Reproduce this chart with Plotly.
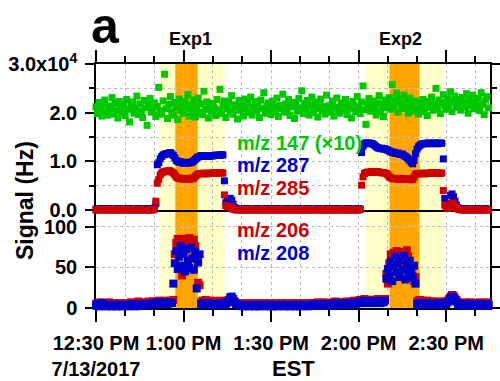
import pandas as pd
import plotly.graph_objects as go

# ---------------------------------------------------------------------------
# Ion signals recorded every 30 s on 13 July 2017 (EST)
# ---------------------------------------------------------------------------
t_start = "2017-07-13 12:30:00"
t_end = "2017-07-13 14:45:00"
n_points = 270
times = pd.date_range(t_start, periods=n_points, freq="30s")

# m/z 147 (x10), units of 1e4 Hz; each row is 5 minutes
mz147_x10 = [
    2.12, 1.98, 2.21, 2.05, 1.93, 2.17, 2.26, 2.02, 1.95, 2.14,  # 12:30
    2.08, 2.31, 1.97, 2.19, 2.04, 1.89, 2.23, 2.11, 2.00, 2.16,
    1.94, 2.27, 2.07, 1.81, 2.13, 2.22, 1.99, 2.09, 2.34, 1.96,
    2.18, 2.03, 1.90, 2.25, 2.10, 1.74, 2.15, 2.29, 2.01, 2.06,
    2.20, 1.92, 2.13, 2.52, 2.04, 1.97, 2.24, 2.79, 2.08, 1.88,  # 12:50
    2.17, 2.33, 2.02, 1.95, 2.21, 2.11, 1.86, 2.28, 2.05, 2.14,
    1.99, 2.23, 2.09, 2.37, 1.93, 2.16, 2.04, 2.26, 1.91, 2.12,  # 13:00
    2.30, 2.01, 2.18, 1.96, 2.44, 2.07, 2.22, 1.89, 2.15, 2.03,
    2.19, 2.10, 1.94, 2.27, 2.06, 2.48, 1.98, 2.13, 2.24, 1.90,
    2.08, 2.21, 2.02, 2.35, 1.97, 2.16, 2.11, 1.87, 2.25, 2.05,
    2.14, 1.93, 2.28, 2.07, 2.19, 2.00, 2.32, 1.95, 2.12, 2.23,  # 13:20
    2.04, 2.17, 1.90, 2.26, 2.09, 2.41, 1.99, 2.13, 2.20, 2.06,
    1.96, 2.24, 2.11, 2.02, 2.30, 1.92, 2.15, 2.08, 2.38, 2.01,  # 13:30
    2.18, 2.05, 2.27, 1.94, 2.12, 2.21, 1.88, 2.16, 2.03, 2.29,
    2.10, 2.45, 1.98, 2.19, 2.07, 2.25, 1.95, 2.14, 2.32, 2.00,
    2.22, 2.09, 1.91, 2.17, 2.28, 2.04, 2.13, 1.97, 2.36, 2.06,
    2.15, 2.01, 2.24, 1.93, 2.11, 2.30, 2.07, 1.99, 2.20, 2.12,  # 13:50
    2.05, 2.27, 1.96, 2.18, 2.09, 1.89, 2.23, 2.14, 2.02, 2.33,
    2.11, 1.98, 2.22, 2.55, 2.06, 1.76, 2.17, 2.29, 2.03, 2.13,  # 14:00
    2.24, 2.08, 1.95, 2.20, 2.35, 2.02, 2.15, 1.92, 2.26, 2.10,
    2.19, 2.31, 2.07, 2.58, 2.14, 2.25, 2.40, 2.01, 2.28, 2.17,
    2.09, 2.36, 2.12, 2.22, 1.99, 2.30, 2.06, 2.18, 2.03, 2.24,
    2.13, 1.97, 2.20, 2.08, 2.27, 2.02, 2.16, 1.94, 2.23, 2.11,  # 14:20
    2.32, 2.05, 2.18, 2.50, 2.10, 2.26, 1.98, 2.21, 2.37, 2.14,
    2.07, 2.29, 2.16, 2.43, 2.02, 2.23, 2.34, 2.11, 2.19, 2.27,  # 14:30
    2.05, 2.31, 2.20, 2.12, 2.39, 1.99, 2.25, 2.15, 2.36, 2.08,
    2.22, 2.13, 2.30, 2.04, 2.41, 2.17, 1.96, 2.26, 2.33, 2.10,
]

# m/z 287, units of 1e4 Hz
mz287 = [
    0.02, 0.01, 0.02, 0.03, 0.01, 0.02, 0.02, 0.01, 0.03, 0.02,  # 12:30
    0.01, 0.02, 0.02, 0.01, 0.02, 0.03, 0.02, 0.01, 0.02, 0.02,
    0.01, 0.02, 0.03, 0.02, 0.01, 0.02, 0.02, 0.01, 0.02, 0.03,
    0.02, 0.01, 0.02, 0.02, 0.01, 0.03, 0.02, 0.02, 0.01, 0.02,
    0.04, 0.13, 0.93, 0.97, 1.05, 1.10, 1.13, 1.14, 1.16, 1.15,  # 12:50
    1.17, 1.18, 1.15, 1.12, 1.07, 1.02, 1.00, 0.98, 0.99, 0.97,
    0.96, 0.98, 0.97, 0.96, 0.98, 0.97, 0.99, 1.01, 1.04, 1.07,  # 13:00
    1.09, 1.10, 1.12, 1.11, 1.10, 1.11, 1.12, 1.11, 1.10, 1.12,
    1.11, 1.12, 1.13, 1.12, 1.13, 1.12, 1.14, 1.13, 0.60, 0.15,
    0.18, 0.23, 0.24, 0.20, 0.12, 0.05, 0.03, 0.02, 0.01, 0.02,
    0.02, 0.01, 0.02, 0.03, 0.02, 0.01, 0.02, 0.02, 0.01, 0.02,  # 13:20
    0.03, 0.02, 0.01, 0.02, 0.02, 0.01, 0.02, 0.03, 0.02, 0.01,
    0.02, 0.02, 0.01, 0.02, 0.03, 0.02, 0.01, 0.02, 0.02, 0.01,  # 13:30
    0.02, 0.03, 0.02, 0.01, 0.02, 0.02, 0.01, 0.02, 0.03, 0.02,
    0.01, 0.02, 0.02, 0.01, 0.02, 0.03, 0.02, 0.01, 0.02, 0.02,
    0.01, 0.02, 0.03, 0.02, 0.01, 0.02, 0.02, 0.01, 0.02, 0.03,
    0.02, 0.01, 0.02, 0.02, 0.01, 0.03, 0.02, 0.02, 0.01, 0.02,  # 13:50
    0.02, 0.01, 0.02, 0.03, 0.02, 0.01, 0.02, 0.02, 0.01, 0.02,
    0.03, 0.02, 1.18, 1.31, 1.36, 1.38, 1.37, 1.38, 1.36, 1.37,  # 14:00
    1.35, 1.33, 1.30, 1.28, 1.27, 1.26, 1.27, 1.25, 1.26, 1.24,
    1.23, 1.21, 1.20, 1.18, 1.19, 1.17, 1.16, 1.17, 1.15, 1.14,
    1.15, 1.12, 1.10, 1.08, 1.05, 1.02, 0.98, 0.95, 1.02, 1.16,
    1.25, 1.30, 1.33, 1.35, 1.36, 1.37, 1.36, 1.37, 1.38, 1.37,  # 14:20
    1.36, 1.37, 1.38, 1.37, 1.36, 1.37, 1.38, 1.37, 1.05, 0.24,
    0.12, 0.05, 0.10, 0.30, 0.33, 0.27, 0.18, 0.10, 0.05, 0.03,  # 14:30
    0.02, 0.01, 0.02, 0.02, 0.03, 0.01, 0.02, 0.02, 0.01, 0.02,
    0.02, 0.03, 0.01, 0.02, 0.02, 0.01, 0.02, 0.03, 0.02, 0.01,
]

# m/z 285, units of 1e4 Hz
mz285 = [
    0.00, 0.01, 0.00, 0.00, 0.01, 0.00, 0.00, 0.01, 0.00, 0.00,  # 12:30
    0.01, 0.00, 0.00, 0.01, 0.00, 0.00, 0.00, 0.01, 0.00, 0.01,
    0.00, 0.00, 0.01, 0.00, 0.00, 0.01, 0.00, 0.00, 0.01, 0.00,
    0.00, 0.01, 0.00, 0.00, 0.00, 0.01, 0.00, 0.01, 0.00, 0.00,
    0.02, 0.18, 0.55, 0.63, 0.72, 0.76, 0.78, 0.79, 0.80, 0.79,  # 12:50
    0.81, 0.80, 0.78, 0.76, 0.72, 0.68, 0.66, 0.65, 0.64, 0.65,
    0.63, 0.64, 0.65, 0.64, 0.63, 0.65, 0.64, 0.66, 0.69, 0.72,  # 13:00
    0.74, 0.75, 0.74, 0.75, 0.76, 0.75, 0.74, 0.75, 0.76, 0.75,
    0.76, 0.77, 0.76, 0.75, 0.76, 0.77, 0.76, 0.76, 0.31, 0.09,
    0.06, 0.08, 0.07, 0.04, 0.02, 0.01, 0.00, 0.00, 0.01, 0.00,
    0.00, 0.00, 0.01, 0.00, 0.00, 0.00, 0.01, 0.00, 0.00, 0.01,  # 13:20
    0.00, 0.00, 0.00, 0.01, 0.00, 0.00, 0.01, 0.00, 0.00, 0.00,
    0.01, 0.00, 0.00, 0.00, 0.01, 0.00, 0.00, 0.01, 0.00, 0.00,  # 13:30
    0.00, 0.01, 0.00, 0.00, 0.00, 0.01, 0.00, 0.00, 0.01, 0.00,
    0.00, 0.00, 0.01, 0.00, 0.00, 0.01, 0.00, 0.00, 0.00, 0.01,
    0.00, 0.01, 0.00, 0.00, 0.01, 0.00, 0.00, 0.00, 0.01, 0.00,
    0.00, 0.00, 0.01, 0.00, 0.00, 0.01, 0.00, 0.01, 0.00, 0.00,  # 13:50
    0.01, 0.00, 0.00, 0.00, 0.01, 0.00, 0.00, 0.01, 0.00, 0.00,
    0.00, 0.01, 0.51, 0.68, 0.75, 0.77, 0.78, 0.77, 0.78, 0.79,  # 14:00
    0.78, 0.77, 0.78, 0.79, 0.78, 0.77, 0.76, 0.77, 0.76, 0.75,
    0.72, 0.68, 0.66, 0.65, 0.64, 0.65, 0.64, 0.63, 0.64, 0.65,
    0.64, 0.63, 0.64, 0.63, 0.64, 0.63, 0.62, 0.63, 0.68, 0.73,
    0.75, 0.74, 0.75, 0.76, 0.75, 0.74, 0.75, 0.76, 0.75, 0.76,  # 14:20
    0.77, 0.76, 0.75, 0.76, 0.77, 0.76, 0.75, 0.76, 0.40, 0.10,
    0.05, 0.03, 0.06, 0.13, 0.15, 0.12, 0.08, 0.04, 0.02, 0.01,  # 14:30
    0.00, 0.01, 0.00, 0.00, 0.00, 0.01, 0.00, 0.00, 0.01, 0.00,
    0.00, 0.00, 0.01, 0.00, 0.00, 0.00, 0.01, 0.00, 0.00, 0.00,
]

# m/z 206, Hz
mz206 = [
    5, 6, 4, 7, 5, 6, 5, 4, 6, 7,  # 12:30
    5, 4, 6, 5, 4, 5, 6, 5, 4, 5,
    6, 5, 4, 5, 7, 6, 5, 4, 5, 8,
    5, 6, 7, 6, 5, 6, 8, 6, 7, 8,
    7, 8, 7, 9, 8, 7, 8, 9, 8, 7,  # 12:50
    8, 9, 8, 10, 66, 80, 85, 78, 84, 40,
    85, 82, 77, 84, 86, 79, 83, 84, 76, 60,  # 13:00
    31, 28, 7, 9, 8, 10, 9, 8, 7, 9,
    8, 7, 6, 8, 7, 9, 8, 6, 7, 8,
    9, 10, 8, 9, 8, 7, 6, 5, 6, 5,
    5, 4, 5, 6, 5, 4, 5, 5, 6, 4,  # 13:20
    5, 6, 4, 5, 5, 6, 5, 4, 5, 6,
    5, 4, 5, 6, 4, 5, 5, 6, 5, 4,  # 13:30
    6, 5, 5, 4, 5, 6, 5, 4, 6, 5,
    4, 5, 6, 5, 5, 4, 6, 5, 5, 6,
    5, 6, 7, 5, 6, 5, 7, 6, 5, 6,
    6, 5, 7, 6, 8, 6, 5, 7, 6, 7,  # 13:50
    7, 6, 8, 7, 6, 8, 7, 9, 7, 8,
    9, 10, 8, 9, 11, 8, 9, 10, 8, 9,  # 14:00
    10, 8, 9, 11, 9, 8, 10, 9, 11, 42,
    30, 55, 66, 62, 68, 59, 70, 64, 67, 61,
    69, 58, 66, 71, 63, 50, 45, 40, 33, 38,
    8, 9, 10, 8, 9, 7, 8, 9, 7, 8,  # 14:20
    7, 8, 6, 7, 6, 8, 7, 6, 7, 8,
    7, 9, 11, 14, 16, 15, 12, 10, 7, 6,  # 14:30
    5, 6, 5, 7, 6, 5, 6, 7, 5, 6,
    6, 5, 6, 7, 5, 6, 5, 6, 7, 5,
]

# m/z 208, Hz
mz208 = [
    3, 5, 2, 4, 6, 4, 3, 2, 3, 4,  # 12:30
    3, 2, 4, 3, 2, 3, 4, 3, 2, 3,
    4, 3, 2, 3, 4, 5, 3, 2, 3, 4,
    3, 4, 5, 4, 3, 4, 5, 4, 5, 6,
    5, 6, 5, 7, 6, 5, 6, 7, 6, 5,  # 12:50
    6, 7, 6, 30, 55, 70, 48, 63, 76, 52,
    67, 45, 72, 58, 49, 74, 61, 47, 69, 24,  # 13:00
    56, 66, 5, 4, 6, 5, 4, 5, 6, 4,
    5, 4, 3, 5, 4, 6, 5, 4, 3, 5,
    7, 9, 13, 14, 11, 8, 5, 4, 3, 4,
    3, 2, 3, 4, 3, 2, 3, 3, 4, 2,  # 13:20
    3, 4, 2, 3, 3, 4, 3, 2, 3, 4,
    3, 2, 3, 4, 2, 3, 3, 4, 3, 2,  # 13:30
    4, 3, 3, 2, 3, 4, 3, 2, 4, 3,
    2, 3, 4, 3, 3, 2, 4, 3, 3, 4,
    3, 4, 5, 3, 4, 3, 5, 4, 3, 4,
    4, 3, 5, 4, 6, 4, 3, 5, 4, 5,  # 13:50
    5, 4, 6, 5, 4, 6, 5, 7, 5, 6,
    7, 8, 6, 7, 9, 6, 7, 8, 6, 7,  # 14:00
    8, 6, 7, 9, 7, 6, 8, 7, 9, 36,
    48, 40, 57, 33, 51, 63, 44, 55, 38, 60,
    47, 64, 35, 53, 42, 58, 46, 37, 52, 30,
    5, 4, 6, 5, 4, 5, 6, 4, 5, 4,  # 14:20
    5, 6, 4, 5, 4, 6, 5, 4, 5, 6,
    5, 7, 9, 12, 14, 13, 10, 8, 5, 4,  # 14:30
    3, 4, 3, 5, 4, 3, 4, 5, 3, 4,
    4, 3, 4, 5, 3, 4, 3, 4, 5, 3,
]

# Experiment windows: outer (pale) and inner (orange) periods
exp_names = ["Exp1", "Exp2"]
exp_outer_start = ["2017-07-13 12:51:40", "2017-07-13 14:02:30"]
exp_outer_end = ["2017-07-13 13:14:05", "2017-07-13 14:29:10"]
exp_inner_start = ["2017-07-13 12:57:10", "2017-07-13 14:10:35"]
exp_inner_end = ["2017-07-13 13:04:50", "2017-07-13 14:20:50"]

# Axis ticks
x_tick_times = ["2017-07-13 12:30", "2017-07-13 13:00", "2017-07-13 13:30",
                "2017-07-13 14:00", "2017-07-13 14:30"]
x_tick_text = ["12:30 PM<br>7/13/2017", "1:00 PM", "1:30 PM", "2:00 PM", "2:30 PM"]
top_tick_vals = [0, 1, 2, 3]
top_tick_text = ["0.0", "1.0", "2.0", "3.0x10<sup>4</sup>"]
bottom_tick_vals = [0, 50, 100]
bottom_tick_text = ["0", "50", "100"]

# ---------------------------------------------------------------------------
FONT = "Liberation Sans, Arial, Helvetica, sans-serif"
GREEN = "#00C800"
BLUE = "#0000CC"
RED = "#CC0000"
PALE = "#FFFFC8"
ORANGE = "#FFA500"
GRID = "#BEBEBE"

W, H = 500, 381
ML, MR, MT, MB = 96, 10, 64, 73
PW, PH = W - ML - MR, H - MT - MB
split = 98 / PH  # fraction of plot height used by the lower panel


def px_x(x):
    return (x - ML) / PW


def px_y(y):
    return (H - MB - y) / PH


def sq(color, size):
    return dict(symbol="square", size=size, color=color, line=dict(width=0))


fig = go.Figure()

# upper panel
fig.add_trace(go.Scatter(x=times, y=mz147_x10, xaxis="x2", yaxis="y2", mode="markers",
                         marker=sq(GREEN, 7), cliponaxis=False))
fig.add_trace(go.Scatter(x=times, y=mz287, xaxis="x2", yaxis="y2", mode="markers",
                         marker=sq(BLUE, 7), cliponaxis=False))
fig.add_trace(go.Scatter(x=times, y=mz285, xaxis="x2", yaxis="y2", mode="markers",
                         marker=sq(RED, 7), cliponaxis=False))
# lower panel
fig.add_trace(go.Scatter(x=times, y=mz206, xaxis="x", yaxis="y", mode="markers",
                         marker=sq(RED, 8), cliponaxis=False))
fig.add_trace(go.Scatter(x=times, y=mz208, xaxis="x", yaxis="y", mode="markers",
                         marker=sq(BLUE, 8), cliponaxis=False))

for k in range(len(exp_names)):
    fig.add_shape(type="rect", xref="x", yref="paper", x0=exp_outer_start[k],
                  x1=exp_outer_end[k], y0=0, y1=1, fillcolor=PALE,
                  line=dict(width=0), layer="below")
    fig.add_shape(type="rect", xref="x", yref="paper", x0=exp_inner_start[k],
                  x1=exp_inner_end[k], y0=0, y1=1, fillcolor=ORANGE,
                  line=dict(width=0), layer="below")

tick_font = dict(family=FONT, size=20, color="black", weight="bold")
grid = dict(showgrid=True, gridcolor=GRID, gridwidth=1, griddash="3px,3px")

x_common = dict(type="date", range=[t_start, t_end], tickmode="array",
                tickvals=x_tick_times, ticktext=x_tick_text, ticks="outside",
                ticklen=12, tickwidth=1.5, tickcolor="black", showline=True,
                linecolor="black", linewidth=1.5, zeroline=False, automargin=False,
                layer="below traces", tickfont=tick_font, ticklabelstandoff=4,
                minor=dict(dtick=600000, tick0=t_start, ticks="outside", ticklen=6,
                           tickwidth=1.5, tickcolor="black", **grid),
                **grid)

y_common = dict(ticks="outside", ticklen=9, tickwidth=1.5, tickcolor="black",
                showline=True, linecolor="black", linewidth=1.5, mirror="ticks",
                zeroline=False, layer="below traces", tickfont=tick_font,
                automargin=False, ticklabelstandoff=4, **grid)

fig.update_layout(
    width=W, height=H,
    margin=dict(l=ML, r=MR, t=MT, b=MB, autoexpand=False),
    paper_bgcolor="white", plot_bgcolor="white",
    showlegend=False,
    font=dict(family=FONT, color="black"),
    xaxis=dict(domain=[0, 1], anchor="y", **x_common),
    xaxis2=dict(domain=[0, 1], anchor="y2", matches="x", side="top",
                showticklabels=False, mirror=True, **x_common),
    yaxis=dict(domain=[0, split], anchor="x", range=[0, 120.5], tickmode="array",
               tickvals=bottom_tick_vals, ticktext=bottom_tick_text, **y_common),
    yaxis2=dict(domain=[split, 1], anchor="x2", range=[0, 3.0], tickmode="array",
                tickvals=top_tick_vals, ticktext=top_tick_text,
                minor=dict(dtick=0.5, tick0=0, ticks="outside", ticklen=5,
                           tickwidth=1.5, tickcolor="black", **grid),
                **y_common),
)

bold = dict(family=FONT, color="black", weight="bold")
notes = [
    dict(text="a", x=px_x(105), y=px_y(26), font=dict(size=50, **bold)),
    dict(text=exp_names[0], x=px_x(190), y=px_y(39), font=dict(size=18, **bold)),
    dict(text=exp_names[1], x=px_x(400), y=px_y(39), font=dict(size=18, **bold)),
    dict(text="EST", x=px_x(293), y=px_y(368), font=dict(size=22, **bold)),
    dict(text="Signal (Hz)", x=px_x(25), y=px_y(201), textangle=-90,
         font=dict(size=23, **bold)),
]
labels = [
    ("m/z 147 (×10)", GREEN, 143),
    ("m/z 287", BLUE, 165),
    ("m/z 285", RED, 187.5),
    ("m/z 206", RED, 230),
    ("m/z 208", BLUE, 252.5),
]
for text, color, ypix in labels:
    notes.append(dict(text=text, x=px_x(235), y=px_y(ypix), xanchor="left",
                      font=dict(size=20, family=FONT, color=color, weight="bold")))

for n in notes:
    fig.add_annotation(xref="paper", yref="paper", showarrow=False,
                       xanchor=n.pop("xanchor", "center"), yanchor="middle", **n)

fig.write_html("out.html")
